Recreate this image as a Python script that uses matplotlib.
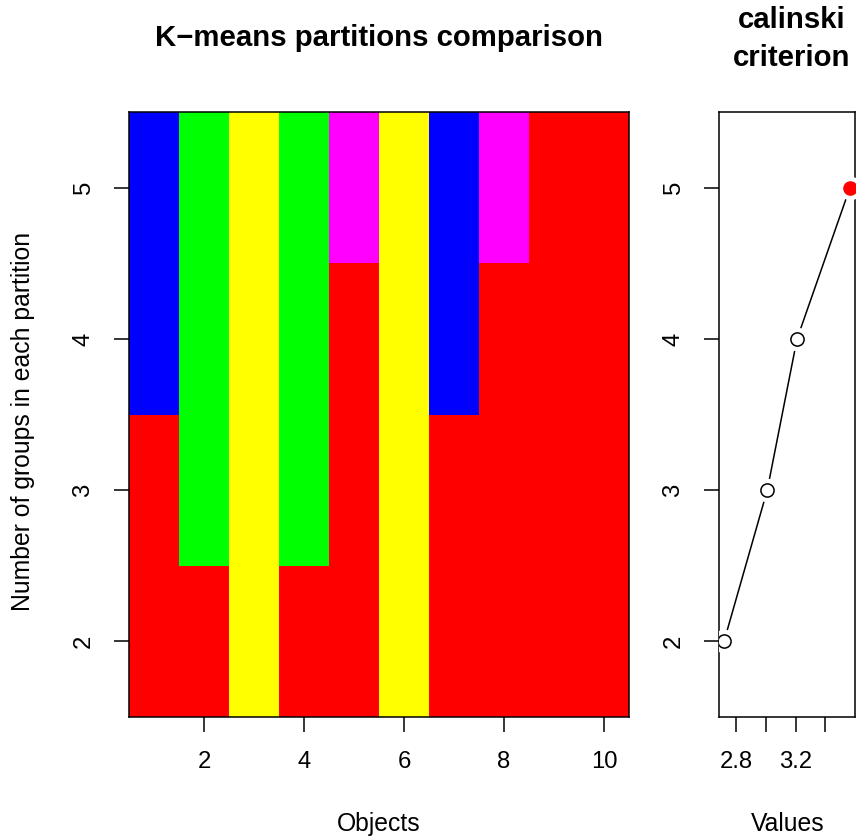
import numpy as np
import matplotlib
matplotlib.use("Agg")
import matplotlib.pyplot as plt
from matplotlib.colors import ListedColormap

plt.rcParams['font.family'] = ['Liberation Sans', 'DejaVu Sans']

# cluster membership of the 10 objects for each number of groups
objects = np.arange(1, 11)
groups = [2, 3, 4, 5]
palette = ['red', '#00FF00', 'yellow', 'blue', 'magenta']
# 0=red 1=green 2=yellow 3=blue 4=magenta
k2 = [0, 0, 2, 0, 0, 2, 0, 0, 0, 0]
k3 = [0, 1, 2, 1, 0, 2, 0, 0, 0, 0]
k4 = [3, 1, 2, 1, 0, 2, 3, 0, 0, 0]
k5 = [3, 1, 2, 1, 4, 2, 3, 4, 0, 0]
partitions = np.array([k2, k3, k4, k5])

# calinski criterion for each number of groups
calinski = [2.72, 3.01, 3.21, 3.565]
best = int(np.argmax(calinski))

W, H = 856, 839
fig = plt.figure(figsize=(W / 100, H / 100), dpi=100)

def frac(x0, y0, x1, y1):
    return [x0 / W, 1 - y1 / H, (x1 - x0) / W, (y1 - y0) / H]

fs = 17.2
lw = 1.1

ax = fig.add_axes(frac(129, 112, 629, 717))
xe = np.append(objects - 0.5, objects[-1] + 0.5)
ye = np.append(np.array(groups) - 0.5, groups[-1] + 0.5)
ax.pcolormesh(xe, ye, partitions, cmap=ListedColormap(palette), vmin=-0.5, vmax=4.5)
ax.set_xlim(0.5, 10.5)
ax.set_ylim(1.5, 5.5)
ax.set_xticks([2, 4, 6, 8, 10])
ax.set_yticks(groups)

ax2 = fig.add_axes(frac(719, 112, 855, 717))
ax2.plot(calinski, groups, color='black', lw=1.1, zorder=2)
ax2.plot(calinski[:best], groups[:best], 'o', ms=16, mfc='white', mec='white', zorder=3)
ax2.plot(calinski[:best], groups[:best], 'o', ms=9.5, mfc='white', mec='black', mew=1.1, zorder=4)
ax2.plot(calinski[best], groups[best], 'o', ms=16, mfc='white', mec='white', zorder=3, clip_on=False)
ax2.plot(calinski[best], groups[best], 'o', ms=9.5, color='red', zorder=4, clip_on=False)
ax2.margins(x=0.04)
ax2.set_ylim(1.5, 5.5)
ax2.set_xticks([2.8, 3.0, 3.2, 3.4])
ax2.set_xticklabels(['2.8', '', '3.2', ''])
ax2.set_yticks(groups)

for a in (ax, ax2):
    for s in a.spines.values():
        s.set_linewidth(lw)
    a.tick_params(length=10.8, width=lw, labelsize=fs, pad=14)
    a.tick_params(axis='y', labelrotation=90)
    for t in a.get_yticklabels():
        t.set_va('center')

fig.text(379 / W, 1 - 38 / H, 'K\u2212means partitions comparison', ha='center', va='center',
         fontsize=21.2, fontweight='bold')
fig.text(792 / W, 1 - 39 / H, 'calinski\ncriterion', ha='center', va='center',
         fontsize=21.2, fontweight='bold', linespacing=1.45)
fig.text(379 / W, 1 - 824 / H, 'Objects', ha='center', va='center', fontsize=17.8)
fig.text(788 / W, 1 - 824 / H, 'Values', ha='center', va='center', fontsize=17.8)
fig.text(23 / W, 1 - 421 / H, 'Number of groups in each partition', ha='center', va='center',
         fontsize=17.8, rotation=90)

fig.savefig('out.png', dpi=100)
